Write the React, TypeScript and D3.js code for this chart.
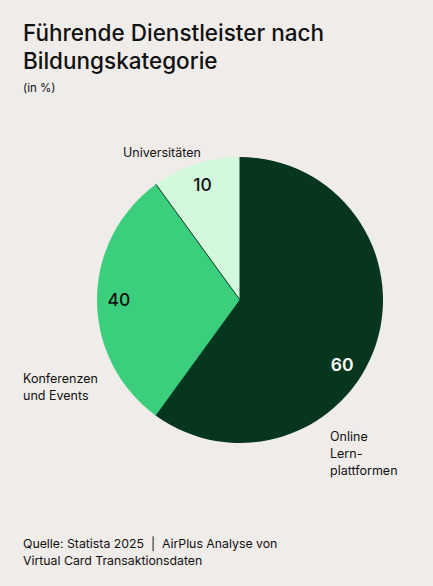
import React from 'react';
import * as d3 from 'd3';

// Categories and the numbers written on the slices
const categories = ['Online Lernplattformen', 'Konferenzen und Events', 'Universitäten'];
const valueLabels = [60, 40, 10];
// Slice sizes as they are drawn in the picture (% of the circle)
const sliceShares = [60, 30, 10];
const categoryLines = [['Online', 'Lern-', 'plattformen'], ['Konferenzen', 'und Events'], ['Universitäten']];

const titleLines = ['Führende Dienstleister nach', 'Bildungskategorie'];
const subtitle = '(in %)';
const sourceLines = ['Quelle: Statista 2025  |  AirPlus Analyse von', 'Virtual Card Transaktionsdaten'];

const W = 433;
const H = 586;
const cx = 240;
const cy = 300;
const radius = 143;
const labelRadius = 121;
const colors = ['#07361f', '#3bce7c', '#d3f8db'];
const textColor = '#111111';
const font = 'Inter, "Noto Sans", sans-serif';

// the big slice's number sits a bit lower than its mid angle
const labelAngleShift = [0.25, 0, 0];
// where the category names start (left edge, first baseline)
const catPos = [
  { x: 330, y: 441 },
  { x: 23, y: 383 },
  { x: 123, y: 157 },
];

export default function App() {
  const pie = d3.pie<number>().sort(null).value(d => d).startAngle(0).endAngle(2 * Math.PI);
  const arcs = pie(sliceShares);
  const arc = d3.arc<d3.PieArcDatum<number>>().innerRadius(0).outerRadius(radius);

  const boundaries = arcs.map(a => a.startAngle);

  return (
    <svg width={W} height={H} style={{ position: 'absolute', left: 0, top: 0, background: '#f0ecea' }}>
      <rect width={W} height={H} fill="#f0ecea" />
      <g fontFamily={font} fill={textColor}>
        {titleLines.map((t, i) => (
          <text key={t} x={23} y={41 + i * 28} fontSize={22.5} fontWeight={500}>{t}</text>
        ))}
        <text x={23} y={92} fontSize={11.5}>{subtitle}</text>
      </g>

      <g transform={`translate(${cx},${cy})`}>
        {arcs.map((a, i) => (
          <path key={categories[i]} d={arc(a) || ''} fill={colors[i]} />
        ))}
        {boundaries.map((b, i) => (
          <line
            key={i}
            x1={0}
            y1={0}
            x2={radius * Math.sin(b)}
            y2={-radius * Math.cos(b)}
            stroke="#07361f"
            strokeWidth={1}
          />
        ))}
        {arcs.map((a, i) => {
          const ang = (a.startAngle + a.endAngle) / 2 + labelAngleShift[i];
          return (
            <text
              key={'v' + i}
              x={labelRadius * Math.sin(ang)}
              y={-labelRadius * Math.cos(ang)}
              dy="0.35em"
              textAnchor="middle"
              fontFamily={font}
              fontSize={17.5}
              fontWeight={i === 0 ? 600 : 500}
              fill={i === 0 ? '#ffffff' : textColor}
            >
              {valueLabels[i]}
            </text>
          );
        })}
      </g>

      <g fontFamily={font} fontSize={12.5} fill={textColor}>
        {categoryLines.map((lines, i) => (
          <text key={categories[i]} x={catPos[i].x} y={catPos[i].y}>
            {lines.map((l, j) => (
              <tspan key={l} x={catPos[i].x} dy={j === 0 ? 0 : 17}>{l}</tspan>
            ))}
          </text>
        ))}
        {sourceLines.map((t, i) => (
          <text key={t} x={23} y={548 + i * 17} xmlSpace="preserve" fontSize={12.3}>{t}</text>
        ))}
      </g>
    </svg>
  );
}
